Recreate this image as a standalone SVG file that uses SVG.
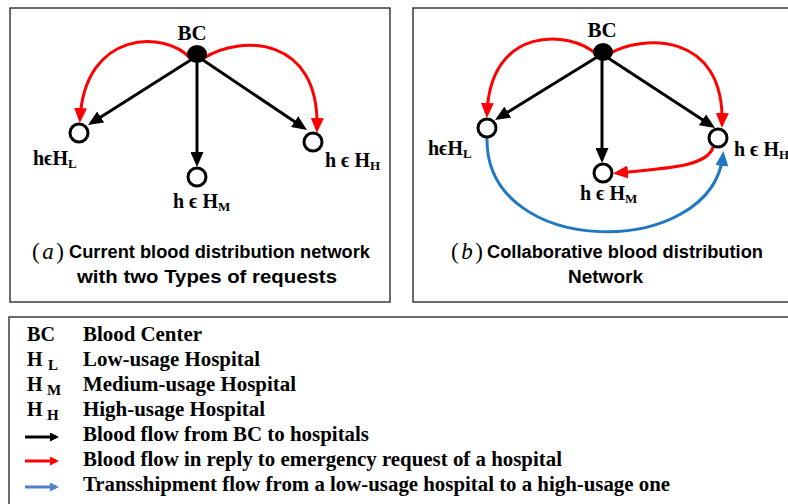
<svg xmlns="http://www.w3.org/2000/svg" width="788" height="504" viewBox="0 0 788 504">
<style>
.box{fill:#fff;stroke:#3a3a3a;stroke-width:1.5}
.blk{fill:none;stroke:#000;stroke-width:3}
.red{fill:none;stroke:#ff0000;stroke-width:3}
.blu{fill:none;stroke:#1f78c1;stroke-width:3}
.hosp{fill:#fff;stroke:#000;stroke-width:3}
.lab{font-family:"Liberation Serif","Times New Roman",serif;font-weight:bold;font-size:20px;fill:#000}
.bc{font-size:21px}
.sub{font-size:13px}
.cap{font-family:"Liberation Sans",Arial,sans-serif;font-weight:bold;font-size:18.3px;fill:#000}
.capi{font-family:"Liberation Serif","Times New Roman",serif;font-size:23px;fill:#000}
.leg{font-family:"Liberation Serif","Times New Roman",serif;font-weight:bold;font-size:20px;fill:#000}
.lsub{font-size:15px}
</style>
<defs>
<marker id="ab" markerUnits="userSpaceOnUse" markerWidth="15" markerHeight="13" refX="11" refY="6.5" orient="auto"><path d="M0,0 L15,6.5 L0,13 z" fill="#000"/></marker>
<marker id="ar" markerUnits="userSpaceOnUse" markerWidth="15" markerHeight="13" refX="11" refY="6.5" orient="auto"><path d="M0,0 L15,6.5 L0,13 z" fill="#ff0000"/></marker>
<marker id="au" markerUnits="userSpaceOnUse" markerWidth="15" markerHeight="13" refX="11" refY="6.5" orient="auto"><path d="M0,0 L15,6.5 L0,13 z" fill="#1f78c1"/></marker>
<marker id="lb" markerUnits="userSpaceOnUse" markerWidth="9" markerHeight="9" refX="6" refY="4.5" orient="auto"><path d="M0,0 L9,4.5 L0,9 z" fill="#000"/></marker>
<marker id="lr" markerUnits="userSpaceOnUse" markerWidth="9" markerHeight="9" refX="6" refY="4.5" orient="auto"><path d="M0,0 L9,4.5 L0,9 z" fill="#ff0000"/></marker>
<marker id="lu" markerUnits="userSpaceOnUse" markerWidth="9" markerHeight="9" refX="6" refY="4.5" orient="auto"><path d="M0,0 L9,4.5 L0,9 z" fill="#4f7fc4"/></marker>
</defs>
<rect width="788" height="504" fill="#fff"/>
<rect class="box" x="10" y="8" width="380" height="294"/>
<rect class="box" x="413" y="8" width="380" height="294"/>
<rect class="box" x="9" y="317" width="790" height="200"/>

<g id="connectors">
<path class="blk" d="M197,56 L91.4,122.9" marker-end="url(#ab)"/>
<path class="blk" d="M197,56 L197,163" marker-end="url(#ab)"/>
<path class="blk" d="M197,56 L303.7,127.8" marker-end="url(#ab)"/>
<path class="red" d="M190,58 C165,30 85,30 80,119" marker-end="url(#ar)"/>
<path class="red" d="M204,58 C240,35 320,35 317,129" marker-end="url(#ar)"/>
<path class="blk" d="M602,54 L498.4,117.9" marker-end="url(#ab)"/>
<path class="blk" d="M602,54 L602,159" marker-end="url(#ab)"/>
<path class="blk" d="M602,54 L711.7,125.8" marker-end="url(#ab)"/>
<path class="red" d="M596,54 C570,30 490,25 487,114" marker-end="url(#ar)"/>
<path class="red" d="M609,54 C640,35 725,30 722,124" marker-end="url(#ar)"/>
<path class="red" d="M713,147 C708,166 670,168 617,173" marker-end="url(#ar)"/>
<path class="blu" d="M487,138 C485,260 712,260 723,155" marker-end="url(#au)"/>
</g>

<g id="a-BC"><ellipse cx="197" cy="54" rx="10" ry="9" fill="#000"/><text class="lab bc" x="192" y="40" text-anchor="middle">BC</text></g>
<g id="a-HL"><circle class="hosp" cx="79" cy="133" r="9"/><text class="lab" x="33" y="165">hϵH<tspan class="sub" dy="3">L</tspan></text></g>
<g id="a-HM"><circle class="hosp" cx="197" cy="177" r="9"/><text class="lab" x="173" y="208">h ϵ H<tspan class="sub" dy="3">M</tspan></text></g>
<g id="a-HH"><circle class="hosp" cx="313" cy="142" r="9"/><text class="lab" x="325" y="167">h ϵ H<tspan class="sub" dy="3">H</tspan></text></g>
<g id="a-caption">
<text class="capi" x="32" y="259" textLength="32">(<tspan font-style="italic">a</tspan>)</text>
<text class="cap" x="69" y="258" textLength="301" lengthAdjust="spacingAndGlyphs">Current blood distribution network</text>
<text class="cap" x="77" y="283" textLength="260" lengthAdjust="spacingAndGlyphs">with two Types of requests</text>
</g>

<g id="b-BC"><ellipse cx="603" cy="52" rx="10" ry="9" fill="#000"/><text class="lab bc" x="602" y="37" text-anchor="middle">BC</text></g>
<g id="b-HL"><circle class="hosp" cx="487" cy="128" r="9"/><text class="lab" x="428" y="155">hϵH<tspan class="sub" dy="3">L</tspan></text></g>
<g id="b-HM"><circle class="hosp" cx="603" cy="173" r="9"/><text class="lab" x="580" y="200">h ϵ H<tspan class="sub" dy="3">M</tspan></text></g>
<g id="b-HH"><circle class="hosp" cx="718" cy="138" r="9"/><text class="lab" x="734" y="156">h ϵ H<tspan class="sub" dy="3">H</tspan></text></g>
<g id="b-caption">
<text class="capi" x="451" y="259" textLength="32">(<tspan font-style="italic">b</tspan>)</text>
<text class="cap" x="487" y="258" textLength="276" lengthAdjust="spacingAndGlyphs">Collaborative blood distribution</text>
<text class="cap" x="568" y="283" textLength="75" lengthAdjust="spacingAndGlyphs">Network</text>
</g>

<g id="legend">
<text class="leg" x="27" y="341" textLength="28" lengthAdjust="spacingAndGlyphs">BC</text>
<text class="leg" x="83" y="341" textLength="119" lengthAdjust="spacingAndGlyphs">Blood Center</text>
<text class="leg" x="27" y="366">H</text><text class="leg lsub" x="48" y="370">L</text>
<text class="leg" x="83" y="366" textLength="177" lengthAdjust="spacingAndGlyphs">Low-usage Hospital</text>
<text class="leg" x="27" y="391">H</text><text class="leg lsub" x="47" y="395">M</text>
<text class="leg" x="83" y="391" textLength="213" lengthAdjust="spacingAndGlyphs">Medium-usage Hospital</text>
<text class="leg" x="27" y="416">H</text><text class="leg lsub" x="47" y="420">H</text>
<text class="leg" x="83" y="416" textLength="182" lengthAdjust="spacingAndGlyphs">High-usage Hospital</text>
<line x1="25" y1="437" x2="56" y2="437" stroke="#000" stroke-width="3" marker-end="url(#lb)"/>
<text class="leg" x="83" y="441" textLength="286" lengthAdjust="spacingAndGlyphs">Blood flow from BC to hospitals</text>
<line x1="25" y1="461" x2="56" y2="461" stroke="#ff0000" stroke-width="3" marker-end="url(#lr)"/>
<text class="leg" x="83" y="466" textLength="479" lengthAdjust="spacingAndGlyphs">Blood flow in reply to emergency request of a hospital</text>
<line x1="25" y1="487" x2="56" y2="487" stroke="#4f7fc4" stroke-width="3" marker-end="url(#lu)"/>
<text class="leg" x="83" y="491" textLength="587" lengthAdjust="spacingAndGlyphs">Transshipment flow from a low-usage hospital to a high-usage one</text>
</g>
</svg>
